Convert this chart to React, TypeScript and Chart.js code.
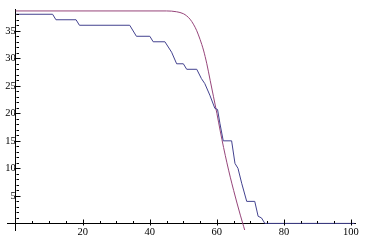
import { useEffect, useRef } from "react";
import { Chart, registerables } from "chart.js";

Chart.register(...registerables);

// Step series (dark blue)
const stepX = [0, 11, 12, 18, 19, 34, 36, 40, 41, 44.5, 46.5, 48, 50, 51, 54, 55.4, 56.4, 57.9, 59.4, 60.2, 60.9, 61.9, 64.4, 65.4, 66.3, 67.4, 68.9, 71.3, 72.3, 73.3, 74.3, 101];
const stepY = [38, 38, 37, 37, 36, 36, 34, 34, 33, 33, 31.1, 29, 29, 28, 28, 26.3, 25.4, 23.3, 20.9, 20.7, 18.2, 15, 15, 10.9, 10, 7.3, 4, 4, 1.3, 1, 0, 0];

// Smooth series (purple-red)
const curveX = [0, 45, 48, 50, 51, 52, 53, 54, 55, 56, 57, 58, 59, 60, 61, 62, 63, 64, 65, 66, 67, 68, 69];
const curveY = [38.6, 38.6, 38.45, 38.1, 37.7, 37.1, 36.2, 35, 33.4, 31.5, 29, 26, 23, 20, 16.8, 13.8, 11, 8.4, 6, 3.7, 1.5, -0.6, -2.6];

const xLabelValues = [20, 40, 60, 80, 100];
const yLabelValues = [5, 10, 15, 20, 25, 30, 35];

const tickMarks = {
  id: "tickMarks",
  afterDraw(chart: any) {
    const { ctx } = chart;
    const xs = chart.scales.x;
    const ys = chart.scales.y;
    const x0 = Math.round(xs.getPixelForValue(0)) + 0.5;
    const y0 = Math.round(ys.getPixelForValue(0)) + 0.5;
    ctx.save();
    ctx.strokeStyle = "#000";
    ctx.lineWidth = 1;
    ctx.beginPath();
    for (const t of ys.ticks) {
      const v = t.value;
      if (v <= 0) continue;
      const major = v % 5 === 0;
      const py = Math.round(ys.getPixelForValue(v)) + 0.5;
      ctx.moveTo(x0 - (major ? 2 : 0), py);
      ctx.lineTo(x0 + (major ? 4 : 2.5), py);
    }
    for (const t of xs.ticks) {
      const v = t.value;
      if (v <= 0) continue;
      const major = v % 20 === 0;
      const px = Math.round(xs.getPixelForValue(v)) + 0.5;
      ctx.moveTo(px, y0 + (major ? 2 : 0));
      ctx.lineTo(px, y0 - (major ? 4 : 2.5));
    }
    ctx.stroke();
    ctx.restore();
  },
};

export default function App() {
  const ref = useRef<HTMLCanvasElement>(null);
  useEffect(() => {
    document.body.style.margin = "0";
    const chart = new Chart(ref.current!, {
      type: "line",
      data: {
        datasets: [
          {
            data: stepX.map((x, i) => ({ x, y: stepY[i] })),
            borderColor: "#43428f",
            borderWidth: 1,
            pointRadius: 0,
            tension: 0,
          },
          {
            data: curveX.map((x, i) => ({ x, y: curveY[i] })),
            borderColor: "#96457a",
            borderWidth: 1,
            pointRadius: 0,
            cubicInterpolationMode: "monotone",
          },
        ],
      },
      options: {
        animation: false,
        responsive: false,
        layout: { padding: { left: 7, right: 14, top: 8, bottom: 10 } },
        plugins: { legend: { display: false }, tooltip: { enabled: false } },
        scales: {
          x: {
            type: "linear",
            position: { y: 0 },
            min: -2.6,
            max: 101.2,
            grid: { display: false, drawTicks: false },
            border: { display: true, color: "#000", width: 1 },
            ticks: {
              stepSize: 5,
              includeBounds: false,
              autoSkip: false,
              maxRotation: 0,
              padding: 3,
              color: "#000",
              font: { family: "Liberation Serif", size: 10.5 },
              callback: (v: any) => (xLabelValues.includes(Number(v)) ? String(v) : ""),
            },
          },
          y: {
            type: "linear",
            position: { x: 0 },
            min: -1.2,
            max: 38.9,
            grid: { display: false, drawTicks: false },
            border: { display: true, color: "#000", width: 1 },
            ticks: {
              stepSize: 1,
              includeBounds: false,
              autoSkip: false,
              padding: 3,
              color: "#000",
              font: { family: "Liberation Serif", size: 10.5 },
              callback: (v: any) => (yLabelValues.includes(Number(v)) ? String(v) : ""),
            },
          },
        },
      },
      plugins: [tickMarks],
    });
    return () => chart.destroy();
  }, []);
  return (
    <div style={{ width: 369, height: 240 }}>
      <canvas ref={ref} width={369} height={240} />
    </div>
  );
}
